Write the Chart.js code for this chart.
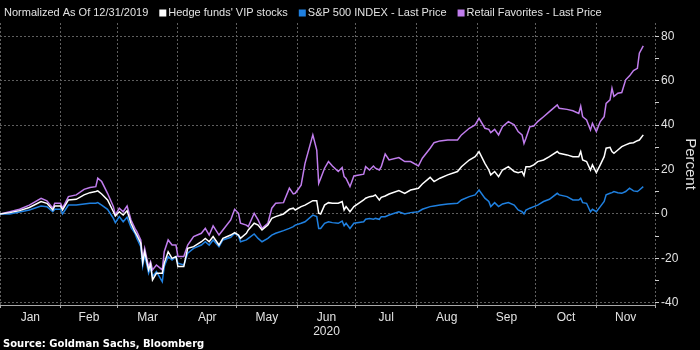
<!DOCTYPE html>
<html>
<head>
<meta charset="utf-8">
<script src="https://cdn.jsdelivr.net/npm/chart.js@4/dist/chart.umd.min.js"></script>
<style>
html, body { margin: 0; padding: 0; background: #000; }
</style>
</head>
<body>
<canvas id="chart" width="700" height="350"></canvas>
<script>
'use strict';

// days since 31 Dec 2019 (x)
var days = [
  0, 5, 10, 15, 21, 24, 27, 28, 31, 32, 35, 39,
  43, 46, 49, 50, 52, 55, 58, 59, 61, 63, 65, 67,
  69, 70, 72, 73, 74, 76, 77, 78, 80, 83, 84, 86,
  88, 90, 91, 94, 96, 99, 103, 105, 107, 109, 112, 114,
  118, 120, 122, 123, 126, 127, 130, 132, 134, 137, 139, 141,
  145, 148, 150, 151, 154, 156, 160, 162, 163, 164, 166, 168,
  170, 173, 175, 176, 177, 179, 181, 186, 187, 189, 191, 192,
  194, 195, 197, 199, 204, 207, 210, 214, 216, 220, 222, 225,
  229, 234, 236, 240, 243, 245, 248, 250, 251, 253, 255, 257,
  260, 263, 265, 267, 268, 269, 271, 273, 275, 278, 281, 285,
  286, 290, 293, 296, 297, 298, 300, 302, 303, 305, 307, 309,
  310, 312, 313, 314, 316, 318, 320, 322, 324, 326, 327, 329
];

var hedgeFunds = [
  0, 0.6, 1.5, 2.9, 5.6, 4.8, 1.8, 3.6, 3.6, 1.8, 6.3, 6.6,
  8.6, 9.6, 10.1, 10.4, 9, 6.3, 1, -0.9, 1, -0.5, 1.5, -4.2,
  -8, -9.5, -13.2, -21.9, -17, -25.2, -22.5, -29.7, -26.7, -26.7, -22.2, -17,
  -20, -19.2, -23.7, -23.7, -15.5, -14.7, -12.5, -11, -12.5, -10.2, -14, -11,
  -9.5, -8.4, -9.5, -11, -8.7, -7.2, -4.2, -5, -7.2, -5, -2, -1.2,
  0, 2.1, 2.6, 1.8, 3.3, 4, 6, 6, 0.3, 0, 4, 5.1,
  4.8, 4.8, 5.6, 1.8, 3.3, 1, 3.3, 6.3, 7.1, 7.8, 8.1, 8.6,
  6.3, 7.5, 8.1, 9, 10.5, 9.3, 10.8, 11.6, 13.5, 16.5, 14.6, 16.1,
  17.6, 19.1, 21.3, 24.3, 25.8, 28.1, 22.8, 19.8, 17.6, 19.1, 16.8, 19.8,
  21.3, 19.1, 18.6, 19.1, 17.3, 21.3, 21.3, 22.1, 23.6, 24.3, 25.8, 28.1,
  27.3, 26.6, 25.8, 25.8, 28.1, 24.3, 23.6, 19.8, 22.1, 18.6, 22.1, 25.8,
  29.6, 30, 28.1, 27.3, 28.8, 30.3, 31.1, 31.8, 32.1, 33, 33.3, 35.6
];

var sp500 = [
  0, 0, 0.9, 1.8, 3.6, 3.3, 1, 2.1, 2.1, 0, 4, 4,
  4.5, 4.8, 4.8, 5.1, 4, 2.1, -2, -3.9, -1.2, -3.5, -1.5, -6,
  -8.7, -11, -14.7, -23.4, -18.5, -26.7, -24, -28.2, -26, -30.5, -23.7, -19.2,
  -20.7, -19.2, -22.2, -23, -17.7, -15.5, -14, -12.5, -14, -11.7, -14.7, -11.7,
  -10.5, -8.7, -9.9, -12.5, -11.7, -11, -9, -11, -12.5, -11, -9.5, -8.7,
  -7.5, -6.5, -5.7, -5, -4.2, -3.5, -0.5, -1.2, -6.5, -6.5, -4.2, -3.5,
  -3.9, -4.2, -3.2, -5.3, -4.2, -6.5, -4.2, -3.5, -2.4, -2, -2.4, -2,
  -2.4, -1.2, -1.2, -0.5, 1, 0, 0.6, 1, 2.1, 3.3, 3.6, 4,
  4.5, 4.8, 6.3, 7.8, 8.6, 10.8, 7.1, 5.6, 3.3, 5.1, 3.3, 4.5,
  5.1, 4, 1.8, 1, 0, 1.8, 2.6, 3.3, 4, 5.6, 6.6, 9.3,
  8.6, 7.8, 6.3, 6.3, 7.1, 5.1, 4.8, 1, 2.1, 1, 3.3, 5.6,
  8.6, 9.3, 9.6, 10.1, 9.6, 9.3, 10.1, 11.6, 10.4, 10.1, 10.8, 12.3
];

var retail = [
  0, 1, 2.1, 4, 7, 5.9, 2.6, 4.8, 4.8, 2.6, 7.8, 8.6,
  11.1, 11.9, 12.3, 16.1, 14.6, 9.3, 3.3, -0.5, 2.6, 1, 3.6, -2.7,
  -6.5, -8, -11.7, -20.7, -15.5, -23.7, -21.5, -25.2, -23, -25.2, -17, -11.7,
  -14, -14, -19.2, -19.2, -14, -10.2, -8.7, -6.5, -9.5, -5.4, -9.5, -7.2,
  -2.7, 2.1, 0.3, -4.2, -5, -5.7, 0.3, -2.7, -6.5, -4.2, 2.6, 4.8,
  5.1, 11.6, 9, 9.3, 13, 22.8, 35.6, 28.8, 13.8, 16, 20.6, 23.6,
  21.6, 19.1, 20.9, 16.8, 16, 12.3, 17.1, 17.9, 21.3, 19.8, 21.6, 20.6,
  19.8, 21.3, 27, 24.3, 25.4, 23.6, 23.6, 21.6, 25.1, 29.6, 32.1, 32.9,
  33.3, 33.3, 35.6, 38.6, 40.1, 43.1, 38.6, 38.1, 36.6, 38.1, 35.6, 39.3,
  41.6, 40.1, 37.1, 35.6, 31.8, 34.1, 39.3, 39.6, 41.6, 43.8, 46.1, 49.1,
  47.6, 47.1, 46.5, 45.3, 48.6, 43.8, 42.3, 37.8, 40.8, 37.1, 41.6, 43.8,
  49.8, 51.4, 56.6, 52.9, 54.4, 54.7, 60.4, 62.2, 64.6, 65.6, 72.4, 75.7
];

var seriesNames = ["Hedge funds' VIP stocks", 'S&P 500 INDEX - Last Price', 'Retail Favorites - Last Price'];
var seriesColors = ['#ffffff', '#1f80e0', '#c07ded'];
var headerNote = 'Normalized As Of 12/31/2019';
var sourceNote = 'Source: Goldman Sachs, Bloomberg';

var monthStarts = [0, 31, 60, 91, 121, 152, 182, 213, 244, 274, 305, 335];
var monthMids = [15.5, 45.5, 75.5, 106, 136.5, 167, 197.5, 228.5, 259, 289.5, 320];
var monthLabels = ['Jan', 'Feb', 'Mar', 'Apr', 'May', ['Jun', '2020'], 'Jul', 'Aug', 'Sep', 'Oct', 'Nov'];
var yTicks = [-40, -30, -20, -10, 0, 10, 20, 30, 40, 50, 60, 70, 80];

var FONT = '"Liberation Sans", Arial, sans-serif';
var gridGrey = '#5e5e5e';
var textGrey = '#e2e2e2';

function points(values) {
  return values.map(function (v, i) { return { x: days[i], y: v }; });
}

// header legend + source line, drawn straight on the canvas
var notesPlugin = {
  id: 'notes',
  afterDraw: function (chart) {
    var ctx = chart.ctx;
    ctx.save();
    ctx.font = '11px ' + FONT;
    ctx.textBaseline = 'middle';
    ctx.fillStyle = textGrey;
    var x = 4, y = 13;
    ctx.fillText(headerNote, x, y);
    x += ctx.measureText(headerNote).width + 11;
    for (var i = 0; i < seriesNames.length; i++) {
      ctx.fillStyle = seriesColors[i];
      ctx.fillRect(x, y - 3.5, 7, 7);
      x += 9;
      ctx.fillStyle = textGrey;
      ctx.fillText(seriesNames[i], x, y);
      x += ctx.measureText(seriesNames[i]).width + 11;
    }
    ctx.font = 'bold 10px "DejaVu Sans", sans-serif';
    ctx.fillStyle = '#ffffff';
    ctx.fillText(sourceNote, 3, 344);
    ctx.restore();
  }
};

var ctx = document.getElementById('chart').getContext('2d');
var chart = new Chart(ctx, {
  type: 'line',
  data: {
    datasets: [
      { label: seriesNames[0], data: points(hedgeFunds), borderColor: seriesColors[0] },
      { label: seriesNames[1], data: points(sp500), borderColor: seriesColors[1] },
      { label: seriesNames[2], data: points(retail), borderColor: seriesColors[2] }
    ]
  },
  options: {
    responsive: false,
    animation: false,
    layout: { padding: { top: 23, left: 0, right: 0, bottom: 0 } },
    elements: {
      point: { radius: 0 },
      line: { borderWidth: 1.5, tension: 0 }
    },
    datasets: { line: { xAxisID: 'x', yAxisID: 'y' } },
    plugins: {
      legend: { display: false },
      tooltip: { enabled: false }
    },
    scales: {
      x: {
        type: 'linear',
        position: 'bottom',
        min: 0,
        max: 335,
        afterBuildTicks: function (s) { s.ticks = monthStarts.map(function (v) { return { value: v }; }); },
        ticks: { display: false },
        grid: { color: gridGrey, tickColor: '#a8a8a8', tickLength: 3, tickBorderDash: [] },
        border: { color: '#a8a8a8', dash: [2, 2] }
      },
      xm: {
        type: 'linear',
        position: 'bottom',
        min: 0,
        max: 335,
        afterBuildTicks: function (s) { s.ticks = monthMids.map(function (v) { return { value: v }; }); },
        afterFit: function (s) { s.height = 42; },
        grid: { display: false, drawTicks: false },
        border: { display: false },
        ticks: {
          autoSkip: false,
          maxRotation: 0,
          padding: 2,
          color: textGrey,
          font: { family: FONT, size: 12 },
          callback: function (v, i) { return monthLabels[i]; }
        }
      },
      y: {
        position: 'right',
        min: -41,
        max: 86,
        afterBuildTicks: function (s) { s.ticks = yTicks.map(function (v) { return { value: v }; }); },
        afterFit: function (s) { s.width = 45; },
        grid: {
          color: function (c) { return c.tick && c.tick.value % 20 === 0 ? gridGrey : 'rgba(0,0,0,0)'; },
          tickColor: '#d0d0d0',
          tickLength: 4,
          tickBorderDash: []
        },
        border: { display: false, dash: [2, 2] },
        ticks: {
          autoSkip: false,
          padding: 2,
          color: textGrey,
          font: { family: FONT, size: 12 },
          callback: function (v) { return v % 20 === 0 ? String(v) : ''; }
        },
        title: {
          display: true,
          text: 'Percent',
          color: textGrey,
          font: { family: FONT, size: 15 },
          padding: { top: 1, bottom: 2 }
        }
      }
    }
  },
  plugins: [notesPlugin]
});
</script>
</body>
</html>
